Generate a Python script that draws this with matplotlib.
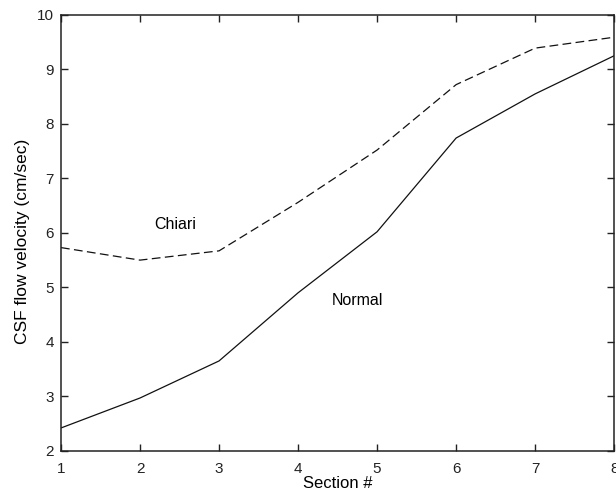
import matplotlib
matplotlib.use("Agg")
import matplotlib.pyplot as plt

plt.rcParams['font.family'] = ['Liberation Sans', 'DejaVu Sans']

# データ
sections = [1, 2, 3, 4, 5, 6, 7, 8]
normal = [2.42, 2.97, 3.65, 4.90, 6.02, 7.74, 8.55, 9.25]
chiari = [5.73, 5.50, 5.67, 6.56, 7.52, 8.72, 9.39, 9.59]
xticks = [1, 2, 3, 4, 5, 6, 7, 8]
yticks = [2, 3, 4, 5, 6, 7, 8, 9, 10]

fig = plt.figure(figsize=(6.16, 4.96), dpi=100)
ax = fig.add_axes([0.099, 0.091, 0.898, 0.879])

ax.plot(sections, normal, color="#111111", lw=0.9)
ax.plot(sections, chiari, color="#111111", lw=0.9, dashes=(7, 3.5))

ax.text(2.44, 6.15, "Chiari", fontsize=11.5, ha="center", va="center")
ax.text(4.75, 4.75, "Normal", fontsize=11.5, ha="center", va="center")

ax.set_xlim(1, 8)
ax.set_ylim(2, 10)
ax.set_xticks(xticks)
ax.set_yticks(yticks)
ax.tick_params(direction="in", length=5, width=1, top=True, right=True,
               labelsize=11, colors="#222222")
ax.tick_params(axis="x", pad=8)
ax.tick_params(axis="y", pad=5)
for s in ax.spines.values():
    s.set_linewidth(1.1)
    s.set_color("#222222")

ax.set_xlabel("Section #", fontsize=12, labelpad=0)
ax.set_ylabel("CSF flow velocity (cm/sec)", fontsize=12.5)
ax.yaxis.set_label_coords(-0.056, 0.48)

fig.savefig("out.png", dpi=100)
